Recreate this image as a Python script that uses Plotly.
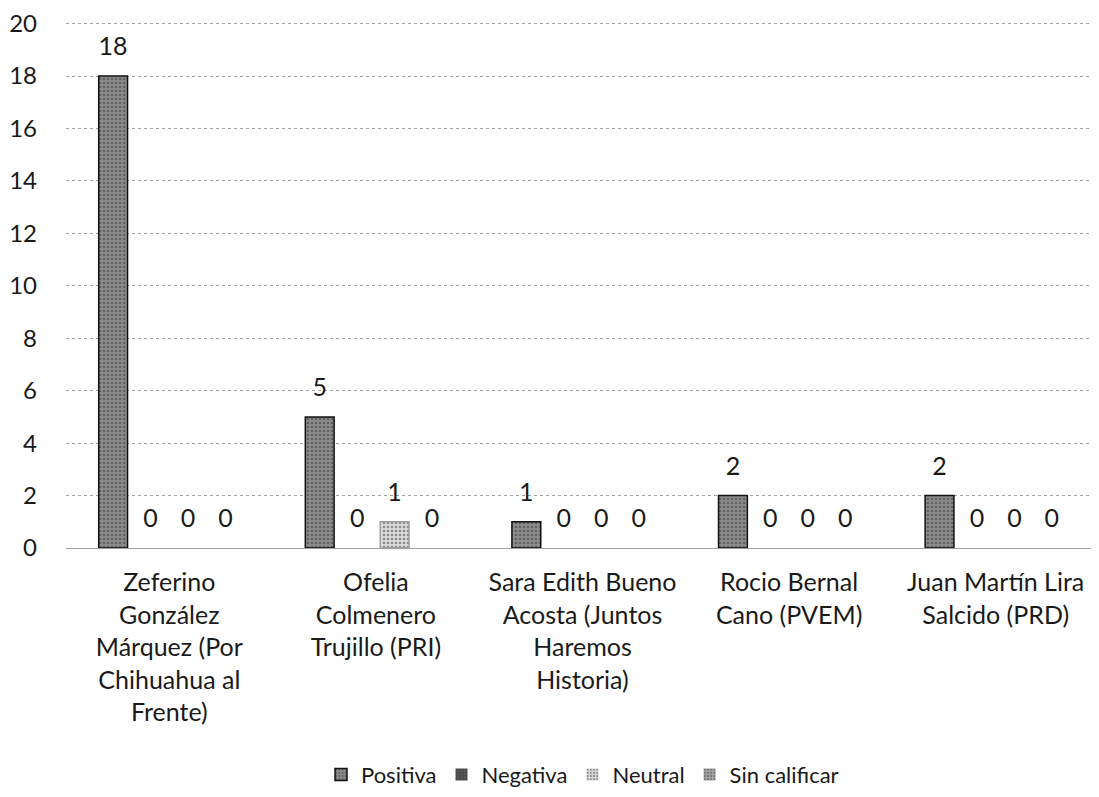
import plotly.graph_objects as go

categories = [
    "Zeferino<br>González<br>Márquez (Por<br>Chihuahua al<br>Frente)",
    "Ofelia<br>Colmenero<br>Trujillo (PRI)",
    "Sara Edith Bueno<br>Acosta (Juntos<br>Haremos<br>Historia)",
    "Rocio Bernal<br>Cano (PVEM)",
    "Juan Martín Lira<br>Salcido (PRD)",
]
positiva = [18, 5, 1, 2, 2]
negativa = [0, 0, 0, 0, 0]
neutral = [0, 1, 0, 0, 0]
sin_calificar = [0, 0, 0, 0, 0]

series = [
    ("Positiva", positiva, "#8c8c8c", "#111111"),
    ("Negativa", negativa, "#555555", "#111111"),
    ("Neutral", neutral, "#dcdcdc", "#a0a0a0"),
    ("Sin calificar", sin_calificar, "#a6a6a6", "#444444"),
]

FS = 25
BARGAP = 0.275

fig = go.Figure()
for i, (name, vals, col, line) in enumerate(series):
    fig.add_trace(go.Bar(
        name=name, x=categories, y=vals,
        offsetgroup=str(i),
        marker=dict(color=col,
                    line=dict(color=line, width=[1.5 if v > 0 else 0 for v in vals]),
                    pattern=dict(shape=".", fgcolor="#333333", bgcolor=col, size=4, solidity=0.35)),
    ))
for i, (name, vals, col, line) in enumerate(series):
    fig.add_trace(go.Scatter(
        x=categories, y=vals, mode="markers+text", showlegend=False,
        offsetgroup=str(i),
        text=[str(v) for v in vals], textposition="top center",
        textfont=dict(size=FS, color="#1a1a1a"),
        marker=dict(size=22, opacity=0), cliponaxis=False, hoverinfo="skip",
    ))

fig.update_layout(
    width=1091, height=789,
    barmode="group", bargap=BARGAP, bargroupgap=0.23,
    scattermode="group", scattergap=BARGAP,
    paper_bgcolor="white", plot_bgcolor="white",
    font=dict(family="Lato, Open Sans, sans-serif", size=FS, color="#1a1a1a"),
    margin=dict(l=58, r=0, t=13, b=249, autoexpand=False),
    legend=dict(orientation="h", x=0.50, xanchor="center", y=-0.43, yanchor="middle",
                font=dict(size=22), itemwidth=30, traceorder="normal"),
    xaxis=dict(showgrid=False, showline=False, ticks="", tickfont=dict(size=FS), tickangle=0,
               automargin=False, ticklabelstandoff=17),
    yaxis=dict(range=[0, 20.1], tickvals=list(range(0, 21, 2)), showgrid=True,
               gridcolor="#a0a0a0", griddash="dot",
               gridwidth=1, zeroline=True, zerolinecolor="#a0a0a0", zerolinewidth=1,
               tickfont=dict(size=24), ticklabelstandoff=28, automargin=False,
               ticklabeloverflow="allow"),
)

fig.write_html("out.html")
